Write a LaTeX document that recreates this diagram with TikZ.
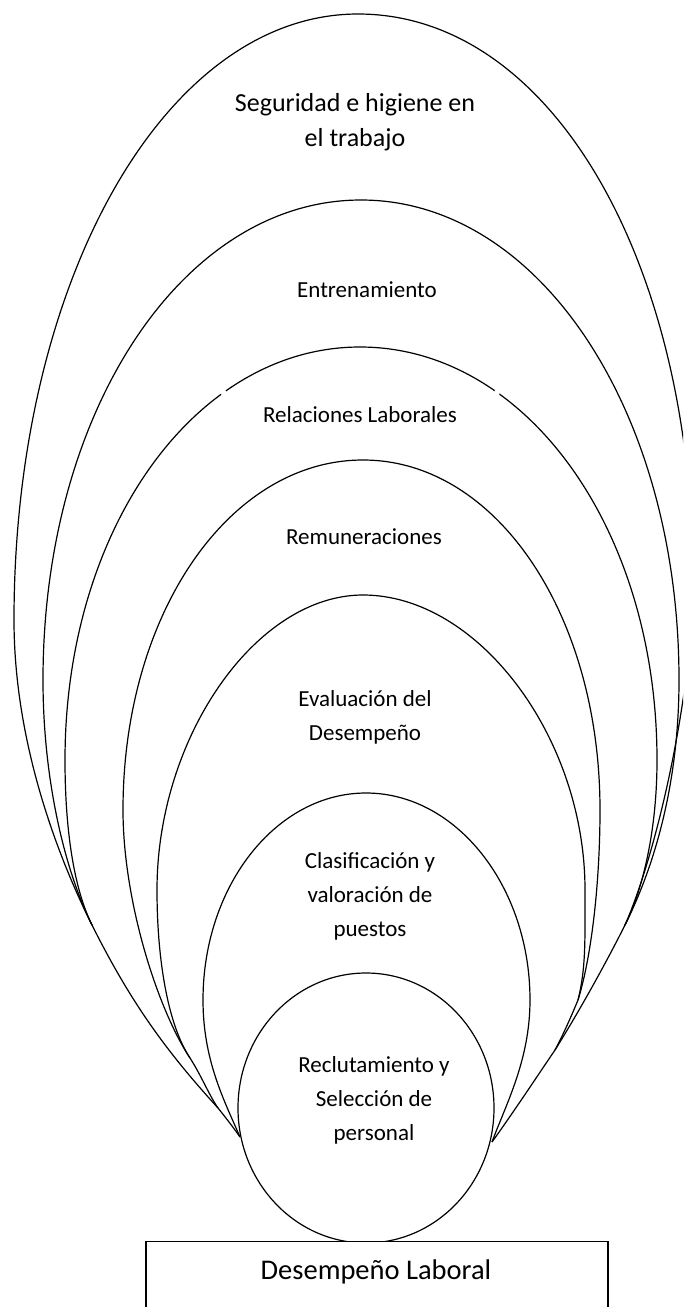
\documentclass[tikz,border=0pt]{standalone}
\usepackage{fontspec}
\setmainfont{Carlito}
\usetikzlibrary{shapes.geometric}
\begin{document}
\begin{tikzpicture}[x=1pt,y=-1pt,
  ring/.style={draw=black,line width=1.2pt},
  lbl/.style={align=center,inner sep=0pt,font=\fontsize{23}{34}\selectfont}]
\useasboundingbox (0,0) rectangle (683,1307);
\clip (0,0) rectangle (683,1307);

% junction points where the rings run together
\coordinate (L)   at (240,1137);
\coordinate (R)   at (492,1142);
\coordinate (J)   at (218,1108);
\coordinate (Jr)  at (555,1050);
\coordinate (G1)  at (92,925);
\coordinate (G1r) at (625,925);
\coordinate (G2)  at (190,1058);
\coordinate (G2r) at (578,1000);

% outer rings
\draw[ring] (G1) .. controls (56,853) and (14,740) .. (14,620)
  .. controls (14,281) and (165,14) .. (358,14)
  .. controls (552,14) and (693,263) .. (693,580)
  .. controls (693,690) and (658,850) .. (G1r);
\draw[ring] (G1) .. controls (65,871) and (43,780) .. (43,680)
  .. controls (43,411) and (183,200) .. (361,200)
  .. controls (539,200) and (679,411) .. (679,680)
  .. controls (679,780) and (656,863) .. (G1r);
\draw[ring] (G1) .. controls (74,889) and (65,830) .. (65,760)
  .. controls (65,529) and (195,347) .. (360,347)
  .. controls (526,347) and (657,529) .. (657,760)
  .. controls (657,830) and (643,889) .. (G1r);
% two small breaks in the third ring
\fill[white] (223.5,392.5) circle (3);
\fill[white] (497,392.5) circle (3);
\draw[ring] (G2) .. controls (157,1008) and (123,900) .. (123,810)
  .. controls (123,614) and (229,460) .. (363,460)
  .. controls (496,460) and (600,614) .. (600,810)
  .. controls (600,880) and (592,955) .. (G2r);
\draw[ring] (G2) .. controls (168,1025) and (157,960) .. (157,890)
  .. controls (157,737) and (256,595) .. (363,595)
  .. controls (478,595) and (585,737) .. (585,890)
  .. controls (585,940) and (586,968) .. (G2r);
\draw[ring] (L) .. controls (224,1100) and (203,1060) .. (203,1000)
  .. controls (203,886) and (276,793) .. (366,793)
  .. controls (456,793) and (530,886) .. (530,1000)
  .. controls (530,1060) and (506,1104) .. (R);

% shared stems down to the inner circle
\draw[ring] (G1) .. controls (132,1005) and (168,1053) .. (J);
\draw[ring] (G2) .. controls (201,1075) and (209,1095) .. (J);
\draw[ring] (J) .. controls (226,1118) and (233,1127) .. (L);
\draw[ring] (G1r) .. controls (607,961) and (580,1010) .. (Jr);
\draw[ring] (G2r) .. controls (571,1017) and (563,1035) .. (Jr);
\draw[ring] (Jr) .. controls (540,1072) and (515,1110) .. (R);

% inner circle
\node[ring,ellipse,fill=white,minimum width=256pt,minimum height=270pt,inner sep=0pt] (core) at (366,1108) {};

% base box
\node[ring,fill=white,minimum width=462pt,minimum height=100pt,anchor=north,inner sep=0pt] (base) at (377,1241) {};
\node[inner sep=0pt,font=\fontsize{28.5}{34}\selectfont] (basetext) at (376,1272) {Desempeño Laboral};

% labels
\node[lbl,font=\fontsize{26}{35}\selectfont] (t1) at (355,122) {Seguridad e higiene en\\el trabajo};
\node[lbl] (t2) at (367,290) {Entrenamiento};
\node[lbl] (t3) at (360,415) {Relaciones Laborales};
\node[lbl] (t4) at (364,537) {Remuneraciones};
\node[lbl] (t5) at (365,717) {Evaluación del\\Desempeño};
\node[lbl] (t6) at (370,896) {Clasificación y\\valoración de\\puestos};
\node[lbl] (t7) at (374,1100) {Reclutamiento y\\Selección de\\personal};
\end{tikzpicture}
\end{document}
